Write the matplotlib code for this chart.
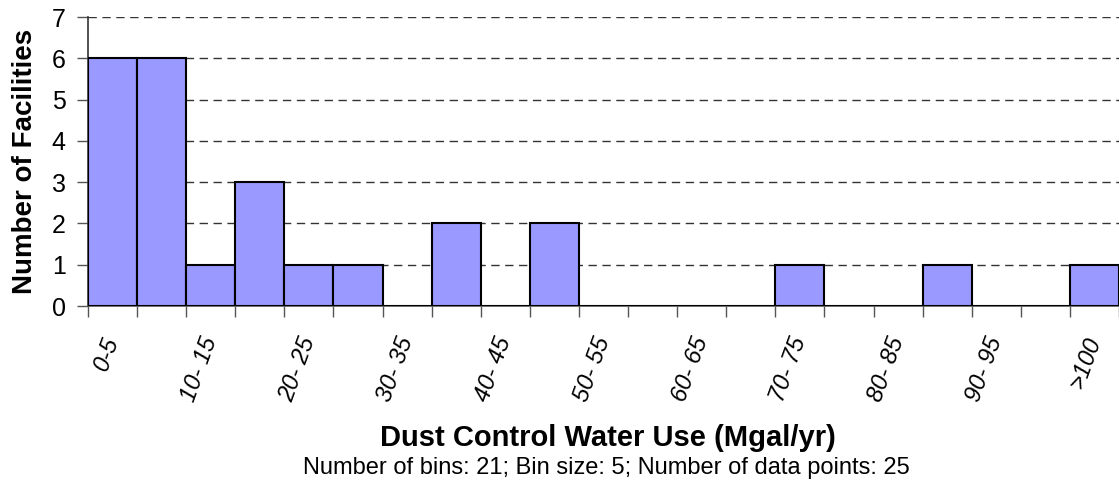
import matplotlib
matplotlib.use('Agg')
import matplotlib.pyplot as plt
import numpy as np

# histogram of dust control water use, 5 Mgal/yr bins
bin_labels = ['0-5', '5- 10', '10- 15', '15- 20', '20- 25', '25- 30', '30- 35',
              '35- 40', '40- 45', '45- 50', '50- 55', '55- 60', '60- 65',
              '65- 70', '70- 75', '75- 80', '80- 85', '85- 90', '90- 95',
              '95- 100', '>100']
counts = [6, 6, 1, 3, 1, 1, 0, 2, 0, 2, 0, 0, 0, 0, 1, 0, 0, 1, 0, 0, 1]
y_ticks = [0, 1, 2, 3, 4, 5, 6, 7]
note = 'Number of bins: 21; Bin size: 5; Number of data points: 25'

plt.rcParams['font.family'] = ['Liberation Sans', 'DejaVu Sans']

fig = plt.figure(figsize=(11.19, 4.82), dpi=100)
ax = fig.add_axes([0.0786, 0.365, 0.9214, 0.5997])

pos = np.arange(len(counts))
ax.bar(pos, counts, width=1.0, color='#9999FF', edgecolor='black',
       linewidth=1.5, zorder=3)

ax.set_xlim(-0.5, len(counts) - 0.5)
ax.set_ylim(0, 7)
ax.set_yticks(y_ticks)
ax.yaxis.grid(True, color='#333333', linestyle=(0, (6, 4)), linewidth=1.0, zorder=0)

# labels on every other bin, tick marks on the bin edges
ax.set_xticks(pos[::2])
ax.set_xticklabels(bin_labels[::2], rotation=70, ha='right', va='center',
                   rotation_mode='anchor', style='italic', fontsize=17)
ax.set_xticks(np.arange(len(counts) + 1) - 0.5, minor=True)
ax.tick_params(axis='x', which='major', length=0, pad=23)
ax.tick_params(axis='x', which='minor', length=8, width=1, color='#555555')
ax.tick_params(axis='y', length=8, width=1, color='#555555', labelsize=18, pad=8)

for s in ['top', 'right']:
    ax.spines[s].set_visible(False)
ax.spines['left'].set_color('#333333')
ax.spines['bottom'].set_color('#555555')
ax.spines['left'].set_linewidth(1.2)
ax.spines['bottom'].set_linewidth(1.2)

ax.set_ylabel('Number of Facilities', fontsize=20, fontweight='bold', labelpad=10)
fig.text(0.543, 0.092, 'Dust Control Water Use (Mgal/yr)', ha='center',
         va='center', fontsize=21, fontweight='bold')
fig.text(0.542, 0.030, note, ha='center', va='center', fontsize=17)

fig.savefig('out.png', dpi=100)
